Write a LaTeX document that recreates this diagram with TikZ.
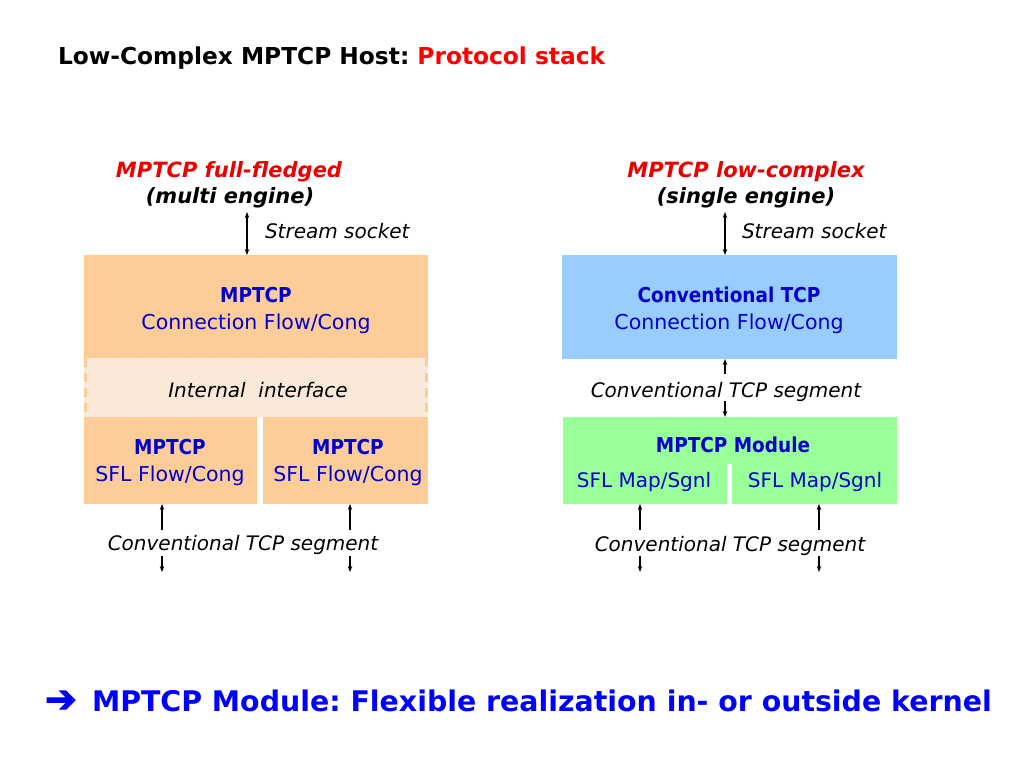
\documentclass[tikz,border=0pt]{standalone}
\usepackage{fontspec}
\setmainfont{DejaVu Sans}
\newfontfamily\cbold{DejaVu Sans}[FakeStretch=0.9]
\newfontfamily\heavyarrow{DejaVu Sans}[FakeBold=3]
\frenchspacing
\usetikzlibrary{arrows.meta,patterns}
\definecolor{peach}{RGB}{252,204,153}
\definecolor{skyb}{RGB}{153,204,255}
\definecolor{mint}{RGB}{153,255,153}
\definecolor{txtblue}{RGB}{0,0,204}
\definecolor{hdred}{RGB}{235,0,0}
\definecolor{hatchbg}{RGB}{253,243,232}
\definecolor{hatchln}{RGB}{245,217,188}
\begin{document}
\begin{tikzpicture}[x=1pt,y=-1pt,
  every node/.style={inner sep=0pt,outer sep=0pt},
  arr/.style={line width=1.1pt,-{Stealth[length=6pt,width=4.5pt]}},
  darr/.style={line width=1.1pt,{Stealth[length=6pt,width=4.5pt]}-{Stealth[length=6pt,width=4.5pt]}},
  lbl/.style={anchor=base,font=\fontsize{20}{24}\selectfont\itshape},
  head/.style={anchor=base,font=\fontsize{21}{26}\selectfont\bfseries\itshape},
  btitle/.style={anchor=base,text=txtblue,font=\cbold\fontsize{20.5}{27}\selectfont\bfseries},
  btext/.style={anchor=base,text=txtblue,font=\fontsize{20.5}{27}\selectfont},
  fillbox/.style={anchor=north west,fill=#1}
]
\fill[white] (0,0) rectangle (1024,768);
\useasboundingbox (0,0) rectangle (1024,768);

% title
\node[anchor=base west,font=\fontsize{23.3}{28}\selectfont\bfseries] (title) at (58,64)
  {Low-Complex MPTCP Host: \textcolor{red}{Protocol stack}};

% ---------- left column ----------
\node[head,text=hdred] (hL1) at (229,177) {MPTCP full-fledged};
\node[head] (hL2) at (230,203) {(multi engine)};
\node[lbl,anchor=base west] (ssLt) at (265,238) {Stream socket};

\node[fillbox=peach,minimum width=344pt,minimum height=103pt] (boxA) at (84,255) {};
\node[btitle] (boxAt1) at (256,302) {MPTCP};
\node[btext] (boxAt2) at (256,329) {Connection Flow/Cong};

\node[fillbox=hatchbg,minimum width=344pt,minimum height=59pt,
      postaction={pattern=north east lines,pattern color=hatchln}] (band) at (84,358) {};
\draw[peach,line width=3pt,dash pattern=on 9pt off 6pt] (85.5,358) -- (85.5,416);
\draw[peach,line width=3pt,dash pattern=on 9pt off 6pt] (426.5,358) -- (426.5,416);
\node[lbl] (bandt) at (258,397) {Internal\ \ interface};

\node[fillbox=peach,minimum width=173pt,minimum height=87pt] (lowL) at (84,417) {};
\node[fillbox=peach,minimum width=165pt,minimum height=87pt] (lowR) at (263,417) {};
\node[btitle] (lowLt1) at (170,454) {MPTCP};
\node[btext] (lowLt2) at (170,481) {SFL Flow/Cong};
\node[btitle] (lowRt1) at (348,454) {MPTCP};
\node[btext] (lowRt2) at (348,481) {SFL Flow/Cong};

\coordinate (ssL) at (247,212);
\draw[darr] (ssL) -- (boxA.north -| ssL);

\coordinate (uL1) at (162,530);
\coordinate (uL2) at (350,530);
\draw[arr] (uL1) -- (lowL.south -| uL1);
\draw[arr] (uL2) -- (lowR.south -| uL2);
\node[lbl] (segL) at (243,550) {Conventional TCP segment};
\coordinate (dL1a) at (162,556); \coordinate (dL1b) at (162,572);
\coordinate (dL2a) at (350,556); \coordinate (dL2b) at (350,572);
\draw[arr] (dL1a) -- (dL1b);
\draw[arr] (dL2a) -- (dL2b);

% ---------- right column ----------
\node[head,text=hdred] (hR1) at (746,177) {MPTCP low-complex};
\node[head] (hR2) at (746,203) {(single engine)};
\node[lbl,anchor=base west] (ssRt) at (742,238) {Stream socket};

\node[fillbox=skyb,minimum width=335pt,minimum height=104pt] (boxB) at (562,255) {};
\node[btitle] (boxBt1) at (729,302) {Conventional TCP};
\node[btext] (boxBt2) at (729,329) {Connection Flow/Cong};

\coordinate (ssR) at (725,212);
\draw[darr] (ssR) -- (boxB.north -| ssR);

\node[fillbox=mint,minimum width=334pt,minimum height=47pt] (mod) at (563,417) {};
\node[fillbox=mint,minimum width=164pt,minimum height=41pt] (sflL) at (563,463) {};
\node[fillbox=mint,minimum width=165pt,minimum height=41pt] (sflR) at (732,463) {};
\node[btitle] (modt) at (733,452) {MPTCP Module};
\node[btext,font=\fontsize{20}{27}\selectfont] (sflLt) at (644,487) {SFL Map/Sgnl};
\node[btext,font=\fontsize{20}{27}\selectfont] (sflRt) at (815,487) {SFL Map/Sgnl};

\coordinate (mR1) at (725,374);
\coordinate (mR2) at (725,401);
\draw[arr] (mR1) -- (boxB.south -| mR1);
\node[lbl] (segM) at (726,397) {Conventional TCP segment};
\draw[arr] (mR2) -- (mod.north -| mR2);

\coordinate (uR1) at (640,530);
\coordinate (uR2) at (819,530);
\draw[arr] (uR1) -- (sflL.south -| uR1);
\draw[arr] (uR2) -- (sflR.south -| uR2);
\node[lbl] (segR) at (730,551) {Conventional TCP segment};
\coordinate (dR1a) at (640,556); \coordinate (dR1b) at (640,572);
\coordinate (dR2a) at (819,556); \coordinate (dR2b) at (819,572);
\draw[arr] (dR1a) -- (dR1b);
\draw[arr] (dR2a) -- (dR2b);

% bottom statement
\node[anchor=base west,text=blue,font=\fontsize{28.4}{34}\selectfont\bfseries] (concl) at (45,711)
  {\makebox[47pt][l]{\heavyarrow\fontsize{38}{38}\selectfont\raisebox{-1pt}{➔}}MPTCP Module: Flexible realization in- or outside kernel};
\end{tikzpicture}
\end{document}
